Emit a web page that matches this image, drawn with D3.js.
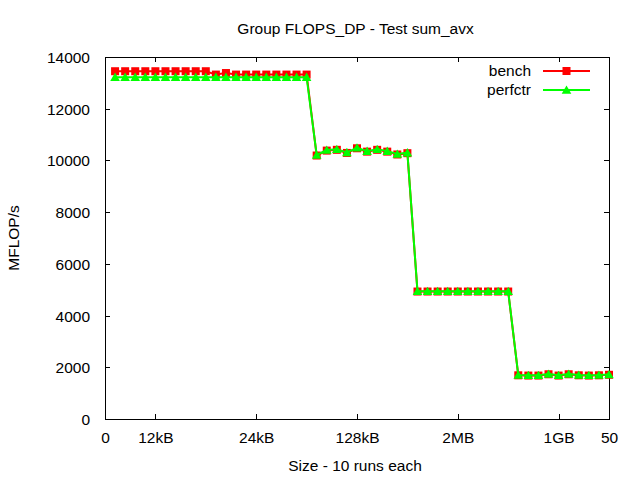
<!DOCTYPE html>
<html>
<head>
<meta charset="utf-8">
<script src="https://cdn.jsdelivr.net/npm/d3@7"></script>
<style>
  html, body { margin: 0; padding: 0; background: #fff; }
  svg { display: block; }
  text { font-family: "Liberation Sans", Arial, sans-serif; font-size: 15.5px; fill: #000; }
</style>
</head>
<body>
<svg id="chart" width="640" height="480"></svg>
<script>
const runs = [1,2,3,4,5,6,7,8,9,10,11,12,13,14,15,16,17,18,19,20,21,22,23,24,25,26,27,28,29,30,31,32,33,34,35,36,37,38,39,40,41,42,43,44,45,46,47,48,49,50];
const bench = [
  13450,13450,13450,13450,13450,13450,13450,13450,13450,13450,
  13320,13380,13320,13320,13320,13320,13320,13320,13320,13320,
  10190,10380,10410,10290,10470,10340,10410,10340,10230,10280,
  4930,4930,4930,4930,4930,4930,4930,4930,4930,4930,
  1690,1680,1680,1730,1680,1730,1690,1680,1690,1710
];
const perfctr = [
  13220,13220,13220,13220,13220,13220,13220,13220,13220,13220,
  13220,13220,13220,13220,13220,13220,13220,13220,13220,13220,
  10210,10400,10430,10310,10490,10360,10430,10360,10250,10300,
  4940,4940,4940,4940,4940,4940,4940,4940,4940,4940,
  1700,1690,1690,1740,1690,1740,1700,1690,1700,1720
];
const xTickValues = [0,5,15,25,35,45,50];
const xTickLabels = ["0","12kB","24kB","128kB","2MB","1GB","50"];
const yTickValues = [0,2000,4000,6000,8000,10000,12000,14000];
const seriesNames = ["bench","perfctr"];
const seriesColors = ["#ff0000","#00ff00"];
const title = "Group FLOPS_DP - Test sum_avx";
const xTitle = "Size - 10 runs each";
const yTitle = "MFLOP/s";

const svg = d3.select("#chart");
const L = 105, R = 609, T = 57, B = 419;
const x = d3.scaleLinear().domain([0,50]).range([L,R]);
const y = d3.scaleLinear().domain([0,14000]).range([B,T]);
const tick = 5;

// axes (inward ticks, mirrored)
const gx = svg.append("g").attr("transform",`translate(0,${B})`)
  .call(d3.axisBottom(x).tickValues(xTickValues).tickFormat((d,i)=>xTickLabels[i]).tickSizeInner(-tick).tickSizeOuter(0).tickPadding(19));
const gxt = svg.append("g").attr("transform",`translate(0,${T})`)
  .call(d3.axisTop(x).tickValues(xTickValues).tickFormat("").tickSizeInner(-tick).tickSizeOuter(0));
const gy = svg.append("g").attr("transform",`translate(${L},0)`)
  .call(d3.axisLeft(y).tickValues(yTickValues).tickFormat(d3.format("d")).tickSizeInner(-tick).tickSizeOuter(0).tickPadding(20));
const gyr = svg.append("g").attr("transform",`translate(${R},0)`)
  .call(d3.axisRight(y).tickValues(yTickValues).tickFormat("").tickSizeInner(-tick).tickSizeOuter(0));
[gx,gxt,gy,gyr].forEach(g=>{
  g.select(".domain").remove();
  g.selectAll("line").attr("stroke","#000").attr("stroke-width",1).attr("shape-rendering","crispEdges");
  g.selectAll("text").attr("font-family",null).attr("font-size",null).attr("fill","#000");
});
gx.selectAll("text").attr("dy",null).attr("y",24);
gy.selectAll("text").attr("dy","0.35em").attr("x",-15);

svg.append("rect").attr("x",L).attr("y",T).attr("width",R-L).attr("height",B-T)
  .attr("fill","none").attr("stroke","#000").attr("stroke-width",1).attr("shape-rendering","crispEdges");

// series
const datasets = [bench, perfctr];
const line = d3.line().x((d,i)=>x(runs[i])).y(d=>y(d));
const tri = d3.symbol().type(d3.symbolTriangle).size(40);
datasets.forEach((vals,si)=>{
  const col = seriesColors[si];
  svg.append("path").datum(vals).attr("d",line).attr("fill","none").attr("stroke",col).attr("stroke-width",2);
  const g = svg.append("g");
  if (si===0) {
    g.selectAll("rect").data(vals).join("rect")
      .attr("x",(d,i)=>x(runs[i])-4).attr("y",d=>y(d)-4).attr("width",8).attr("height",8).attr("fill",col);
  } else {
    g.selectAll("path").data(vals).join("path")
      .attr("d",tri).attr("transform",(d,i)=>`translate(${x(runs[i])},${y(d)+1})`).attr("fill",col);
  }
});

// legend
const legY = [71, 90];
seriesNames.forEach((n,i)=>{
  svg.append("text").attr("x",531).attr("y",legY[i]).attr("dy","0.35em").attr("text-anchor","end").text(n);
  svg.append("line").attr("x1",543).attr("x2",590).attr("y1",legY[i]).attr("y2",legY[i]).attr("stroke",seriesColors[i]).attr("stroke-width",2);
  if (i===0) svg.append("rect").attr("x",566.5-4).attr("y",legY[i]-4).attr("width",8).attr("height",8).attr("fill",seriesColors[i]);
  else svg.append("path").attr("d",tri).attr("transform",`translate(566.5,${legY[i]+1})`).attr("fill",seriesColors[i]);
});

// titles
svg.append("text").attr("x",355.5).attr("y",34).attr("text-anchor","middle").text(title);
svg.append("text").attr("x",355).attr("y",470.5).attr("text-anchor","middle").text(xTitle);
svg.append("text").attr("transform","translate(19,238) rotate(-90)").attr("text-anchor","middle").text(yTitle);
</script>
</body>
</html>
